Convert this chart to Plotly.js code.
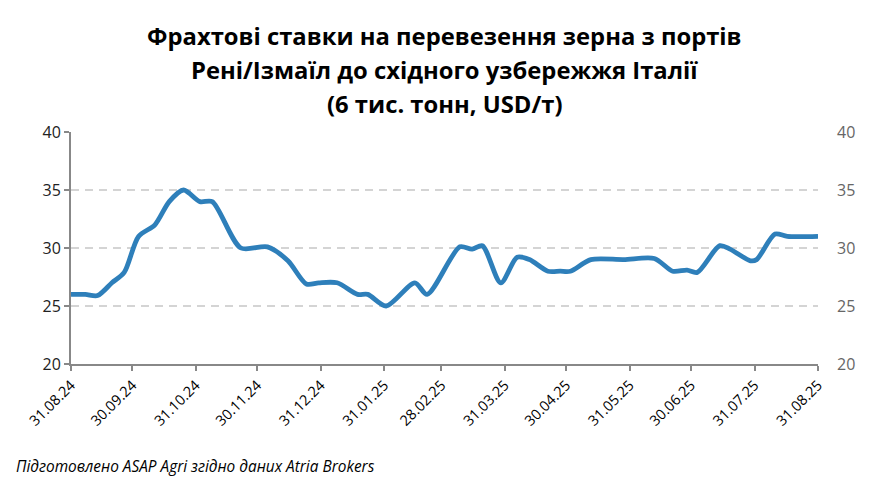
<!DOCTYPE html>
<html>
<head>
<meta charset="utf-8">
<script src="https://cdn.plot.ly/plotly-3.0.1.min.js"></script>
<style>html,body{margin:0;padding:0;background:#fff;}#chart{width:883px;height:488px;}</style>
</head>
<body>
<div id="chart"></div>
<script>
const dates = [
  '2024-08-31','2024-09-07','2024-09-13','2024-09-20','2024-09-26','2024-10-03','2024-10-11','2024-10-18',
  '2024-10-25','2024-11-02','2024-11-08','2024-11-22','2024-12-05','2024-12-15','2024-12-24','2024-12-30',
  '2025-01-08','2025-01-18','2025-01-23','2025-02-01','2025-02-15','2025-02-21','2025-03-09','2025-03-15',
  '2025-03-20','2025-03-29','2025-04-06','2025-04-12','2025-04-21','2025-04-27','2025-05-02','2025-05-12',
  '2025-05-28','2025-06-12','2025-06-21','2025-06-28','2025-07-03','2025-07-14','2025-07-19','2025-07-29',
  '2025-08-01','2025-08-10','2025-08-16','2025-08-31'
];
const rates = [
  26, 26, 25.9, 27, 27.9, 31, 32, 34,
  35, 34, 34, 30, 30.1, 28.9, 26.9, 27,
  27, 26, 26, 25, 27, 26, 30.1, 29.9,
  30.2, 27, 29.2, 29, 28, 28, 28, 29,
  29, 29.1, 28, 28.1, 27.9, 30.2, 29.9, 28.9,
  29, 31.2, 31, 31
];
const tickDates = ['2024-08-31','2024-09-30','2024-10-31','2024-11-30','2024-12-31','2025-01-31','2025-02-28',
  '2025-03-31','2025-04-30','2025-05-31','2025-06-30','2025-07-31','2025-08-31'];
const tickLabels = ['31.08.24','30.09.24','31.10.24','30.11.24','31.12.24','31.01.25','28.02.25',
  '31.03.25','30.04.25','31.05.25','30.06.25','31.07.25','31.08.25'];
const yTicks = [20, 25, 30, 35, 40];
const titleLines = ['Фрахтові ставки на перевезення зерна з портів',
  'Рені/Ізмаїл до східного узбережжя Італії',
  '(6 тис. тонн, USD/т)'];
const sourceNote = 'Підготовлено ASAP Agri згідно даних Atria Brokers';

const font = '"Open Sans", "DejaVu Sans", sans-serif';

const traces = [
  {x: dates, y: rates, type: 'scatter', mode: 'lines',
   line: {color: '#2E7FBA', width: 4.8, shape: 'spline', smoothing: 0.8},
   hoverinfo: 'skip', showlegend: false},
  {x: dates, y: rates, type: 'scatter', mode: 'lines', yaxis: 'y2',
   line: {color: 'rgba(0,0,0,0)', width: 0}, hoverinfo: 'skip', showlegend: false}
];

const plotH = 488 - 132 - 124;
const annotations = titleLines.map((t, i) => ({
  text: '<b>' + t + '</b>', xref: 'paper', yref: 'paper', x: 0.5,
  y: 1 + (132 - [36, 70, 104][i]) / plotH, xanchor: 'center', yanchor: 'middle',
  showarrow: false, font: {family: font, size: 23.8, color: '#000'}
}));
annotations.push({
  text: '<i>' + sourceNote + '</i>', xref: 'paper', yref: 'paper',
  x: (14 - 71) / (883 - 71 - 65), y: -(466 - 364) / plotH,
  xanchor: 'left', yanchor: 'middle', showarrow: false,
  font: {family: font, size: 15.4, color: '#000'}
});

const layout = {
  width: 883, height: 488,
  margin: {l: 71, r: 65, t: 132, b: 124, pad: 0},
  paper_bgcolor: '#fff', plot_bgcolor: '#fff',
  showlegend: false,
  xaxis: {
    type: 'date', range: ['2024-08-31', '2025-08-31'],
    tickmode: 'array', tickvals: tickDates, ticktext: tickLabels, tickangle: -45,
    ticks: 'outside', ticklen: 5, tickwidth: 2, tickcolor: '#888',
    showline: true, linecolor: '#888', linewidth: 2,
    showgrid: false, zeroline: false,
    tickfont: {family: font, size: 14.5, color: '#000'}
  },
  yaxis: {
    range: [20, 40], tickmode: 'array', tickvals: yTicks,
    ticks: 'outside', ticklen: 5, tickwidth: 2, tickcolor: '#888',
    showline: true, linecolor: '#888', linewidth: 2,
    showgrid: true, gridcolor: '#d4d4d4', gridwidth: 1.5, griddash: '8px,6px',
    zeroline: false,
    tickfont: {family: font, size: 16, color: '#222'}
  },
  yaxis2: {
    range: [20, 40], tickmode: 'array', tickvals: yTicks,
    overlaying: 'y', side: 'right', showline: false, showgrid: false, zeroline: false,
    ticks: '', ticklabelstandoff: 18,
    tickfont: {family: font, size: 16, color: '#666'}
  },
  annotations: annotations
};

Plotly.newPlot('chart', traces, layout, {displayModeBar: false, staticPlot: true});
</script>
</body>
</html>
